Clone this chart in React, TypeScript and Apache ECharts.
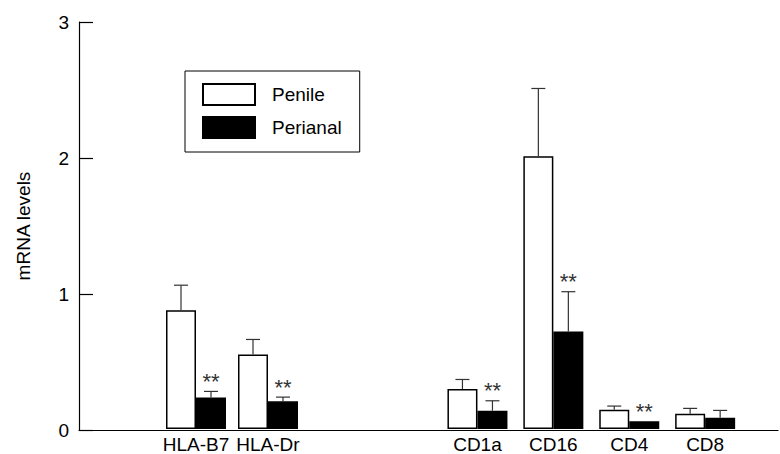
import React, { useEffect, useRef } from "react";
import * as echarts from "echarts";

const categories = ["HLA-B7", "HLA-Dr", "CD1a", "CD16", "CD4", "CD8"];
const penile = [0.875, 0.55, 0.294, 2.01, 0.142, 0.113];
const penileErr = [0.185, 0.11, 0.071, 0.5, 0.027, 0.039];
const perianal = [0.233, 0.204, 0.135, 0.718, 0.057, 0.083];
const perianalErr = [0.044, 0.031, 0.073, 0.294, 0, 0.054];
const significant = [1, 1, 1, 1, 1, 0];
const yTicks = [0, 1, 2, 3];

const FONT = "'Liberation Sans', Arial, Helvetica, sans-serif";

// groups of categories drawn on their own category axes
const groups = [
  { from: 0, to: 2, left: 160, right: 780 - 304 },
  { from: 2, to: 6, left: 439.5, right: 780 - 743.1 },
];

export default function App() {
  const ref = useRef<HTMLDivElement>(null);

  useEffect(() => {
    if (!ref.current) return;
    const chart = echarts.init(ref.current, undefined, { renderer: "svg" });

    const grids: any[] = [{ left: 79, right: 2, top: 22, bottom: 24 }];
    const xAxes: any[] = [
      {
        type: "value",
        gridIndex: 0,
        min: 0,
        max: 1,
        axisLine: { show: true, lineStyle: { color: "#000", width: 1.2 } },
        axisTick: { show: false },
        axisLabel: { show: false },
        splitLine: { show: false },
      },
    ];
    const yAxes: any[] = [
      {
        type: "value",
        gridIndex: 0,
        min: yTicks[0],
        max: yTicks[yTicks.length - 1],
        interval: 1,
        name: "mRNA levels",
        nameLocation: "middle",
        nameGap: 46,
        nameTextStyle: { fontSize: 19, color: "#000", fontFamily: FONT },
        axisLine: { show: true, onZero: false, lineStyle: { color: "#000", width: 1.2 } },
        axisTick: { show: true, inside: true, length: 14, lineStyle: { color: "#000", width: 1.2 } },
        axisLabel: { fontSize: 19, color: "#000", margin: 10, fontFamily: FONT },
        splitLine: { show: false },
      },
    ];
    const series: any[] = [];

    groups.forEach((g, gi) => {
      const idx = gi + 1;
      grids.push({ left: g.left, right: g.right, top: 22, bottom: 24 });
      xAxes.push({
        type: "category",
        gridIndex: idx,
        data: categories.slice(g.from, g.to),
        axisLine: { show: false },
        axisTick: { show: false },
        axisLabel: { interval: 0, fontSize: 19, color: "#000", margin: 6, fontFamily: FONT },
        splitLine: { show: false },
      });
      yAxes.push({ type: "value", gridIndex: idx, min: 0, max: 3, show: false });

      series.push({
        name: "Penile",
        type: "bar",
        xAxisIndex: idx,
        yAxisIndex: idx,
        barWidth: 30,
        barGap: "0%",
        data: penile.slice(g.from, g.to),
        itemStyle: { color: "#fff", borderColor: "#000", borderWidth: 1.5 },
      });
      series.push({
        name: "Perianal",
        type: "bar",
        xAxisIndex: idx,
        yAxisIndex: idx,
        barWidth: 30,
        barGap: "0%",
        data: perianal.slice(g.from, g.to),
        itemStyle: { color: "#000", borderColor: "#000", borderWidth: 1.5 },
      });

      const errData: number[][] = [];
      for (let i = g.from; i < g.to; i++) {
        errData.push([i - g.from, penile[i], penileErr[i], 0, -15]);
        errData.push([i - g.from, perianal[i], perianalErr[i], significant[i], 15]);
      }
      series.push({
        type: "custom",
        xAxisIndex: idx,
        yAxisIndex: idx,
        z: 5,
        silent: true,
        data: errData,
        renderItem: (_params: any, api: any) => {
          const c = api.value(0);
          const v = api.value(1);
          const e = api.value(2);
          const s = api.value(3);
          const off = api.value(4);
          const top = api.coord([c, v]);
          const et = api.coord([c, v + e]);
          const cx = top[0] + off;
          const children: any[] = [];
          const ls = { stroke: "#333", lineWidth: 1.2 };
          if (e > 0) {
            children.push({
              type: "line",
              shape: { x1: cx, y1: top[1], x2: cx, y2: et[1] },
              style: ls,
            });
            children.push({
              type: "line",
              shape: { x1: cx - 7, y1: et[1], x2: cx + 7, y2: et[1] },
              style: ls,
            });
          }
          if (s) {
            children.push({
              type: "text",
              style: {
                text: "**",
                x: cx,
                y: et[1] - 10,
                align: "center",
                verticalAlign: "middle",
                fontSize: 22,
                fontFamily: FONT,
                fill: "#333",
              },
            });
          }
          return { type: "group", children };
        },
      });
    });

    chart.setOption({
      animation: false,
      backgroundColor: "#fff",
      textStyle: { fontFamily: FONT },
      grid: grids,
      xAxis: xAxes,
      yAxis: yAxes,
      legend: {
        data: ["Penile", "Perianal"],
        orient: "vertical",
        left: 185,
        top: 71,
        padding: [12, 18, 13, 17],
        itemWidth: 52,
        itemHeight: 21,
        itemGap: 10,
        borderColor: "#000",
        borderWidth: 1,
        icon: "rect",
        selectedMode: false,
        textStyle: { fontSize: 19, color: "#000", fontFamily: FONT, padding: [0, 0, 0, 12] },
      },
      series,
    });

    return () => chart.dispose();
  }, []);

  return (
    <div
      ref={ref}
      style={{ position: "absolute", left: 0, top: 0, width: 780, height: 454 }}
    />
  );
}
